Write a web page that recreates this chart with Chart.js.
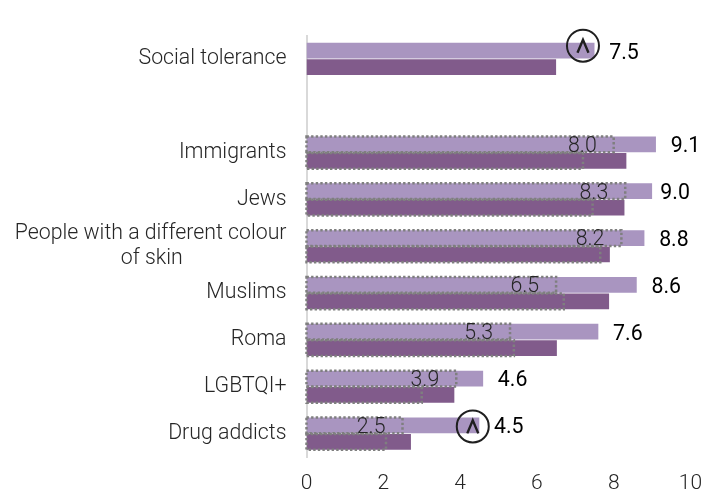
<!DOCTYPE html>
<html><head><meta charset="utf-8">
<style>html,body{margin:0;padding:0;background:#fff}canvas{display:block}</style>
<script src="https://cdn.jsdelivr.net/npm/chart.js@4"></script></head>
<body><canvas id="c" width="712" height="493"></canvas>
<script>
const NB = '\u00a0';
const categories = ['Social tolerance','', 'Immigrants','Jews',['People with a different colour','of skin'+NB.repeat(20)],'Muslims','Roma','LGBTQI+','Drug addicts'];
const lightValues = [7.5,null,9.1,9.0,8.8,8.6,7.6,4.6,4.5];
const darkValues  = [6.5,null,8.33,8.28,7.9,7.88,6.52,3.85,2.72];
const lightDotted = [null,null,8.0,8.3,8.2,6.5,5.3,3.9,2.5];
const darkDotted  = [null,null,7.2,7.45,7.65,6.7,5.4,3.0,2.07];
const markerValues = [7.2,null,null,null,null,null,null,null,4.33];
const xTicks = [0,2,4,6,8,10];
const FONT = 'Roboto';
const overlay = {
  id:'overlay',
  afterDatasetsDraw(chart){
    const {ctx, scales:{x}} = chart;
    const m0 = chart.getDatasetMeta(0), m1 = chart.getDatasetMeta(1);
    ctx.save();
    const box = (val, bar)=>{
      if(val==null) return;
      const x0=x.getPixelForValue(0), x1=x.getPixelForValue(val);
      const t=bar.y-bar.height/2, h=bar.height;
      ctx.strokeRect(x0,t,x1-x0,h);
    };
    ctx.strokeStyle='#7f7f7f'; ctx.lineWidth=2.5; ctx.setLineDash([2.4,2.2]);
    categories.forEach((c,i)=>{ box(lightDotted[i],m0.data[i]); box(darkDotted[i],m1.data[i]); });
    ctx.setLineDash([]);
    ctx.textBaseline='middle';
    categories.forEach((c,i)=>{
      const b=m0.data[i];
      if(lightDotted[i]!=null){
        ctx.font='300 21.3px '+FONT; ctx.fillStyle='#262626'; ctx.textAlign='right';
        ctx.fillText(lightDotted[i].toFixed(1), x.getPixelForValue(lightDotted[i])-17, b.y+2);
      }
      if(lightValues[i]!=null){
        ctx.font='400 21.3px '+FONT; ctx.fillStyle='#000'; ctx.textAlign='center';
        const off = i===3 ? 23 : 29.5;
        ctx.fillText(lightValues[i].toFixed(1), x.getPixelForValue(lightValues[i])+off, b.y+2.5);
      }
      if(markerValues[i]!=null){
        const cx=x.getPixelForValue(markerValues[i]), cy=b.y-(i===0?6:0)+1;
        ctx.strokeStyle='#1f1f1f'; ctx.lineWidth=2;
        ctx.beginPath(); ctx.arc(cx,cy,16,0,Math.PI*2); ctx.stroke();
        ctx.lineWidth=2.4;
        ctx.beginPath(); ctx.moveTo(cx-5.5,cy+7); ctx.lineTo(cx,cy-6); ctx.lineTo(cx+5.5,cy+7); ctx.stroke();
      }
    });
    ctx.restore();
  }
};
new Chart(document.getElementById('c'),{
  type:'bar',
  data:{labels:categories,datasets:[
    {label:'Light',data:lightValues,backgroundColor:'#a995c0',barPercentage:0.96,categoryPercentage:0.7},
    {label:'Dark',data:darkValues,backgroundColor:'#815b8b',barPercentage:0.96,categoryPercentage:0.7}
  ]},
  plugins:[overlay],
  options:{
    indexAxis:'y',responsive:false,animation:false,devicePixelRatio:1,
    layout:{padding:{top:35.5,right:21.5,left:0,bottom:0}},
    plugins:{legend:{display:false},tooltip:{enabled:false}},
    scales:{
      x:{min:0,max:10,afterBuildTicks:s=>{s.ticks=xTicks.map(v=>({value:v}));},
        afterFit:s=>{s.height=36;},
        grid:{display:false},border:{display:false},
        ticks:{font:{family:FONT,size:21,weight:'300'},color:'#262626',padding:6,maxRotation:0}},
      y:{afterFit:s=>{s.width=306.5;},
        grid:{display:false,drawTicks:false},border:{display:true,color:'#d9d9d9',width:2},
        ticks:{font:{family:FONT,size:21.3,weight:'300',lineHeight:1.14},color:'#262626',padding:20,autoSkip:false}}
    }
  }
});
</script></body></html>
